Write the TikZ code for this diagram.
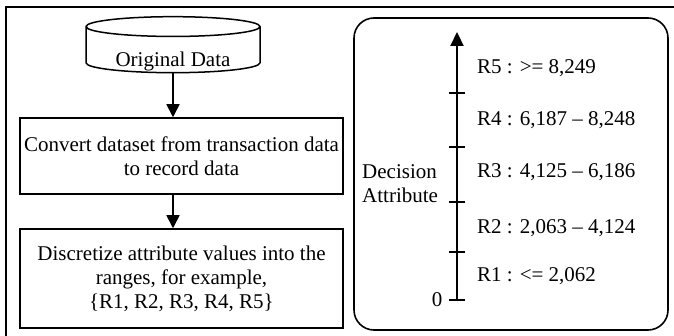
\documentclass[tikz,border=0pt]{standalone}
\usepackage{fontspec}
\setmainfont{Liberation Serif}
\usetikzlibrary{shapes.geometric,arrows.meta}
\begin{document}
\begin{tikzpicture}[x=1pt,y=-1pt,
    every node/.style={font=\fontsize{21}{24}\selectfont},
    databox/.style={cylinder,shape border rotate=90,draw,line width=1.5pt,
      minimum width=174pt,minimum height=56pt,aspect=0.172,inner sep=0pt},
    stepbox/.style={draw,line width=1.5pt,minimum width=323pt,
      align=center,inner sep=2pt},
    flowarrow/.style={line width=1.6pt,-{Triangle[length=13pt,width=13pt]}},
    tickmark/.style={line width=1.6pt},
    rangelabel/.style={anchor=base west,inner sep=0pt}]
  \useasboundingbox (0,0) rectangle (674,336);
  % outer frame, only its top and left edges fall on the page
  \draw[line width=1.8pt] (6,336) -- (6,7) -- (674,7);
  % left half: the steps
  \node[databox] (orig) at (173,50) {\raisebox{-16.5pt}[0pt][0pt]{Original Data}};
  \node[stepbox,minimum height=76pt] (convert) at (181.5,156)
    {Convert dataset from transaction data\\to record data};
  \node[stepbox,minimum height=99pt] (discr) at (181.5,278.5)
    {Discretize attribute values into the\\ranges, for example,\\\{R1, R2, R3, R4, R5\}};
  \draw[flowarrow] (orig.south) -- (convert.north -| orig.south);
  \draw[flowarrow] (convert.south -| orig.south) -- (discr.north -| orig.south);
  % right half: the ranges of the decision attribute
  \draw[line width=1.6pt,rounded corners=20pt] (354,18) rectangle (668,330);
  \coordinate (axbot) at (457,301);
  \coordinate (axtop) at (457,32);
  \draw[line width=2.2pt,-{Triangle[length=14pt,width=13pt]}] (axbot) -- (axtop);
  \foreach \ty in {93,147,202,252,300}
    \draw[tickmark] (449,\ty) -- (465,\ty);
  \node[rangelabel] (r5) at (477,74) {R5 : >= 8,249};
  \node[rangelabel] (r4) at (477,126) {R4 : 6,187 -- 8,248};
  \node[rangelabel] (r3) at (477,178) {R3 : 4,125 -- 6,186};
  \node[rangelabel] (r2) at (477,234) {R2 : 2,063 -- 4,124};
  \node[rangelabel] (r1) at (477,282) {R1 : <= 2,062};
  \node[anchor=base,inner sep=0pt] (zero) at (437,307) {0};
  \node[anchor=west,align=left,inner sep=0pt] (decision) at (362,184)
    {Decision\\Attribute};
\end{tikzpicture}
\end{document}
